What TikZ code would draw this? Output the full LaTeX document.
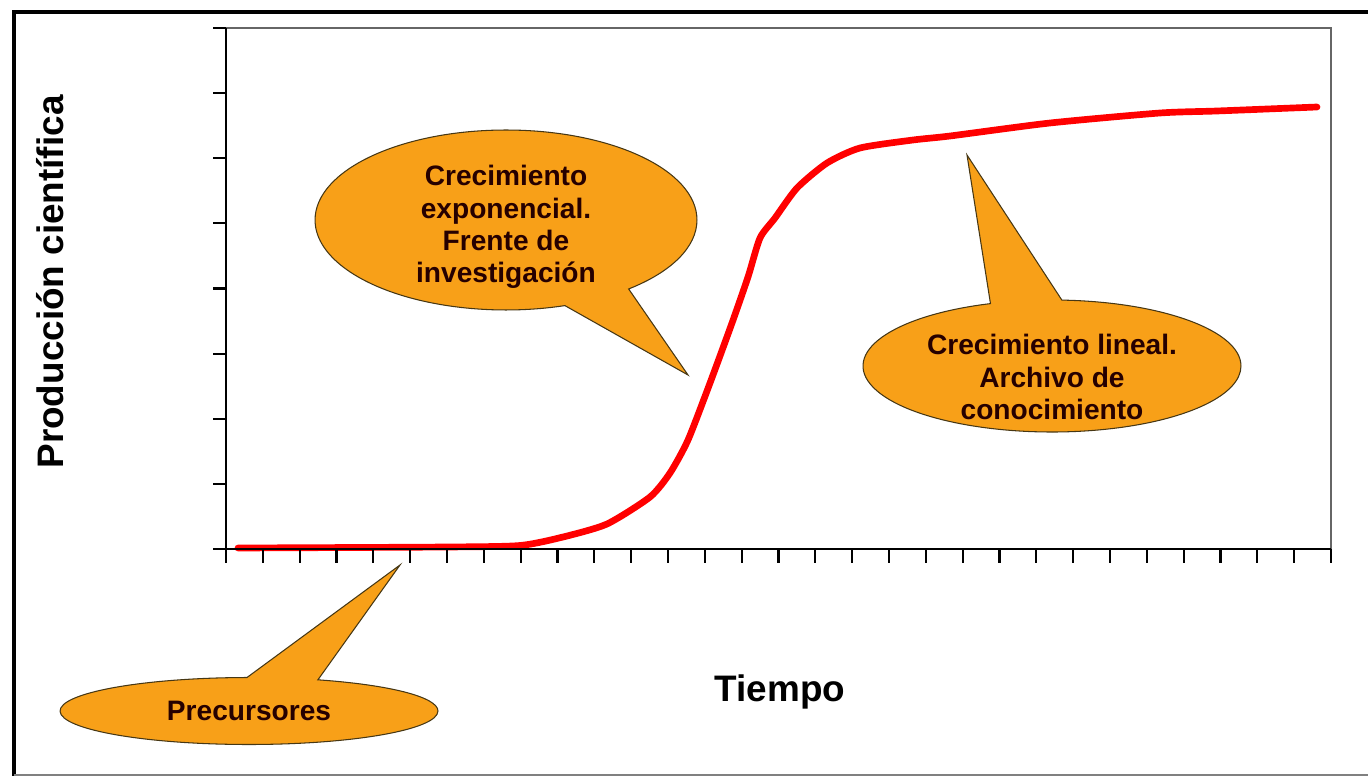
\documentclass[tikz,border=0pt]{standalone}
\usepackage{fontspec}
\setmainfont{Liberation Sans}
\usetikzlibrary{shapes.callouts}
\definecolor{burbuja}{RGB}{248,160,24}
\definecolor{borde}{RGB}{70,55,20}

\begin{document}
\begin{tikzpicture}[x=0.02cm,y=-0.02cm,
  globo/.style={ellipse callout,fill=burbuja,draw=borde,line width=0.6pt,inner sep=0pt,callout pointer arc=22},
  texto/.style={align=center,font=\fontsize{16}{18.4}\selectfont\bfseries,text=black!85!red},
  eje/.style={font=\fontsize{21}{25}\selectfont\bfseries}]
\useasboundingbox (0,0) rectangle (1368,776);
\draw[line width=2.8pt] (1368,12) -- (14,12) -- (14,776);
\draw[gray,line width=1pt] (14,775) -- (1368,775);
\draw[red,line width=3.8pt,line cap=round] plot[smooth,tension=0.4] coordinates {(238,548) (447,547) (520,545.5) (563,537) (607,524) (650,497) (670,473) (688,440) (710,383) (732,323) (748,277) (760,238) (775,218) (797,188) (827,163) (860,148) (913,140) (950,136) (1050,123) (1160,113) (1217,111) (1317,107)};
\draw[gray!80!black,line width=1.2pt] (226,28) -- (1331,28) -- (1331,549);
\draw[line width=1.2pt] (226,28) -- (226,549) -- (1331,549);
\foreach \i in {0,...,8} \draw[line width=1.2pt] (213,{28+\i*65.125}) -- (226,{28+\i*65.125});
\foreach \i in {0,...,30} \draw[line width=1.2pt] ({226+\i*36.833},549) -- ({226+\i*36.833},563);
\node[eje,rotate=90] (produccion) at (50,282) {Producción científica};
\node[eje] (tiempo) at (780,692) {Tiempo};
\coordinate (exp-punta) at (688,375);
\coordinate (lin-punta) at (967,155);
\coordinate (pre-punta) at (400,565);
\node[globo,minimum width=7.64cm,minimum height=3.6cm,callout absolute pointer={(exp-punta)}] (exp) at (506,220) {};
\node[texto] (exp-texto) at (506,227) {Crecimiento\\exponencial.\\Frente de\\investigación};
\node[globo,minimum width=7.56cm,minimum height=2.64cm,callout absolute pointer={(lin-punta)}] (lin) at (1052,366) {};
\node[texto] (lin-texto) at (1052,377) {Crecimiento lineal.\\Archivo de\\conocimiento};
\node[globo,minimum width=7.56cm,minimum height=1.34cm,callout absolute pointer={(pre-punta)}] (pre) at (249,711) {};
\node[texto] (pre-texto) at (249,711) {Precursores};
\end{tikzpicture}
\end{document}
